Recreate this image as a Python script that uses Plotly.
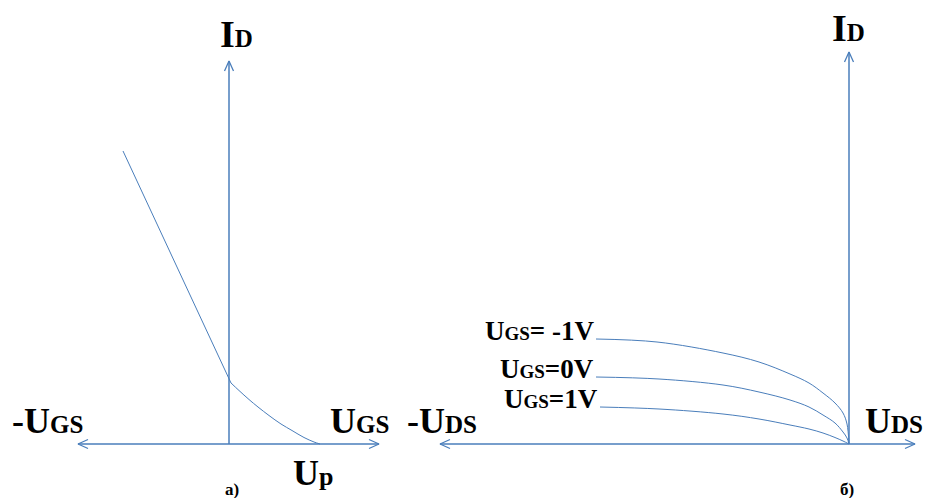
import plotly.graph_objects as go

BLUE = "#4A7EBB"
FONT = "Liberation Serif, Times New Roman, serif"

# Panel a): transfer characteristic, coordinates relative to the panel origin
ugs_lin = [-106, 2]
id_lin = [293, 61]
ugs_sq = [2, 10, 20, 29, 40, 52, 63, 75, 85, 91]
id_sq = [61, 53.5, 44.5, 37, 28.5, 20, 13.5, 6.5, 2, 0]

# Panel б): output characteristics (drawn towards negative U_DS)
uds_m1 = [-253, -192, -126, -90, -59, -40, -26, -14, -6, -2, 0]
id_m1 = [105, 102, 91, 82, 70, 61, 51, 41, 31, 20, 0]
uds_0 = [-253, -190, -126, -90, -59, -40, -26, -14, -6, -2, 0]
id_0 = [67, 65, 59, 52, 44, 37, 29, 21, 12, 6, 0]
uds_p1 = [-249, -190, -126, -90, -59, -40, -26, -14, -6, 0]
id_p1 = [37, 35, 30, 25, 19, 15, 11, 6.5, 3, 0]
curve_labels = ["U<span style='font-size:19px'>GS</span>= -1V",
                "U<span style='font-size:19px'>GS</span>=0V",
                "U<span style='font-size:19px'>GS</span>=1V"]

# axis extents for each panel
a_x_left, a_x_right, a_y_top = -151, 150, 383
b_x_left, b_x_right, b_y_top = -409, 66, 392

fig = go.Figure()


def line(xs, ys, xaxis, width=1.0, shape="linear"):
    fig.add_trace(go.Scatter(x=xs, y=ys, mode="lines", xaxis=xaxis, yaxis="y",
                             line=dict(color=BLUE, width=width, shape=shape,
                                       smoothing=1.0),
                             hoverinfo="skip", showlegend=False))


def chevron(tx, ty, dx, dy, xaxis, length=10, half=4.5):
    # open arrowhead pointing along (dx, dy)
    px, py = -dy, dx
    xs = [tx - dx * length + px * half, tx, tx - dx * length - px * half]
    ys = [ty - dy * length + py * half, ty, ty - dy * length - py * half]
    line(xs, ys, xaxis, width=1.3)


# panel a axes
line([a_x_left, a_x_right], [0, 0], "x", width=1.5)
line([0, 0], [0, a_y_top], "x", width=1.5)
chevron(a_x_left, 0, -1, 0, "x")
chevron(a_x_right, 0, 1, 0, "x")
chevron(0, a_y_top, 0, 1, "x")

# panel a curve
line(ugs_lin, id_lin, "x")
line(ugs_sq, id_sq, "x", shape="spline")

# panel б axes
line([b_x_left, b_x_right], [0, 0], "x2", width=1.5)
line([0, 0], [0, b_y_top], "x2", width=1.5)
chevron(b_x_left, 0, -1, 0, "x2")
chevron(b_x_right, 0, 1, 0, "x2")
chevron(0, b_y_top, 0, 1, "x2")

# panel б curves
for xs, ys in [(uds_m1, id_m1), (uds_0, id_0), (uds_p1, id_p1)]:
    line(xs, ys, "x2", shape="spline")


def px(x):
    return x / 925


def py(y):
    return 1 - y / 498


annotations = []


def label(text, x, y, size, xanchor="center", yanchor="middle", xref="paper",
          yref="paper", xshift=0):
    annotations.append(dict(text="<b>" + text + "</b>", x=x, y=y, xref=xref,
                            yref=yref, xanchor=xanchor, yanchor=yanchor,
                            showarrow=False, xshift=xshift,
                            font=dict(family=FONT, size=size, color="black")))


big = 36
sub = "font-size:25px"
label("I<span style='%s'>D</span>" % sub, px(236), py(34), 38)
label("I<span style='%s'>D</span>" % sub, px(848), py(28), 38)
label("-U<span style='%s'>GS</span>" % sub, px(10), py(421), big, xanchor="left")
label("U<span style='%s'>GS</span>" % sub, px(328), py(421), big, xanchor="left")
label("U<span style='font-size:26px'>p</span>", px(291), py(473), big, xanchor="left")
label("a)", px(232), py(489), 17)
label("-U<span style='%s'>DS</span>" % sub, px(405), py(421), big, xanchor="left")
label("U<span style='%s'>DS</span>" % sub, px(863), py(421), big, xanchor="left")
label("б)", px(847), py(489), 17)

for text, xs, ys in zip(curve_labels, [uds_m1, uds_0, uds_p1],
                        [id_m1, id_0, id_p1]):
    label(text, xs[0], ys[0] + 8, 27, xanchor="right", xref="x2", yref="y",
          xshift=0)

axis_off = dict(visible=False, showgrid=False, zeroline=False, fixedrange=True)
fig.update_layout(
    width=925, height=498,
    margin=dict(l=0, r=0, t=0, b=0),
    paper_bgcolor="white", plot_bgcolor="white",
    xaxis=dict(axis_off, domain=[0, 410 / 925], range=[-229, 181]),
    xaxis2=dict(axis_off, domain=[410 / 925, 1], range=[-439, 76], anchor="y"),
    yaxis=dict(axis_off, domain=[0, 1], range=[-54, 444]),
    annotations=annotations,
)

fig.write_html("out.html")
